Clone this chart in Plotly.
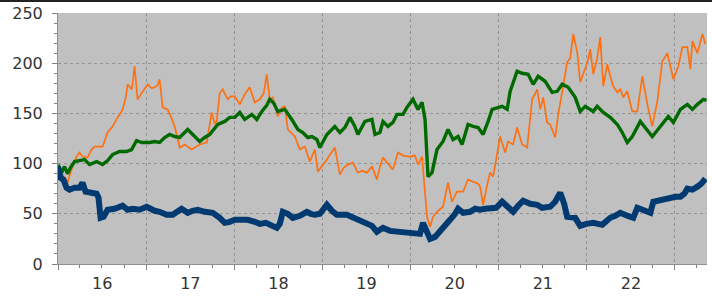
import pandas as pd
import plotly.graph_objects as go

# ---- data (time as decimal years, values in index points) ----
navy_t = [2016.000, 2016.028, 2016.063, 2016.097, 2016.131, 2016.188, 2016.244, 2016.278, 2016.313, 2016.381,
          2016.438, 2016.460, 2016.483, 2016.517, 2016.563, 2016.642, 2016.699, 2016.733, 2016.790, 2016.847,
          2016.926, 2017.006, 2017.097, 2017.153, 2017.233, 2017.301, 2017.403, 2017.472, 2017.528, 2017.585,
          2017.665, 2017.756, 2017.835, 2017.892, 2017.949, 2018.006, 2018.063, 2018.153, 2018.233, 2018.290,
          2018.358, 2018.426, 2018.483, 2018.517, 2018.551, 2018.608, 2018.665, 2018.744, 2018.824, 2018.869,
          2018.915, 2018.972, 2019.051, 2019.108, 2019.165, 2019.278, 2019.392, 2019.506, 2019.563, 2019.619,
          2019.688, 2019.767, 2019.847, 2019.938, 2020.028, 2020.108, 2020.142, 2020.188, 2020.222, 2020.278,
          2020.335, 2020.392, 2020.449, 2020.506, 2020.540, 2020.597, 2020.676, 2020.733, 2020.790, 2020.847,
          2020.903, 2020.972, 2021.040, 2021.097, 2021.165, 2021.222, 2021.278, 2021.358, 2021.438, 2021.494,
          2021.585, 2021.642, 2021.699, 2021.744, 2021.778, 2021.869, 2021.926, 2021.994, 2022.074, 2022.176,
          2022.233, 2022.267, 2022.324, 2022.381, 2022.460, 2022.528, 2022.574, 2022.642, 2022.722, 2022.756,
          2022.835, 2022.915, 2023.006, 2023.063, 2023.108, 2023.142, 2023.199, 2023.256, 2023.301, 2023.347]
navy_v = [97, 86, 84, 76, 74, 76, 76, 81, 72, 71,
          70, 66, 46, 47, 54, 55, 56, 58, 54, 55,
          54, 57, 53, 52, 49, 49, 55, 51, 53, 54,
          52, 51, 46, 41, 42, 44, 44, 44, 42, 40,
          41, 38, 36, 40, 52, 50, 46, 48, 52, 50,
          49, 50, 59, 53, 49, 49, 45, 41, 38, 32,
          36, 33, 32, 31, 31, 30, 41, 30, 25, 27,
          32, 38, 44, 50, 55, 51, 52, 55, 54, 55,
          56, 56, 62, 57, 52, 58, 63, 60, 59, 56,
          57, 62, 71, 60, 47, 46, 38, 40, 41, 39,
          43, 46, 48, 51, 48, 46, 56, 54, 51, 62,
          64, 66, 67, 67, 70, 75, 74, 77, 80, 85]

green_t = [2016.000, 2016.040, 2016.074, 2016.108, 2016.142, 2016.188, 2016.244, 2016.301, 2016.358, 2016.438,
           2016.506, 2016.563, 2016.619, 2016.699, 2016.778, 2016.835, 2016.892, 2016.949, 2017.040, 2017.097,
           2017.153, 2017.210, 2017.267, 2017.324, 2017.381, 2017.472, 2017.540, 2017.608, 2017.665, 2017.722,
           2017.813, 2017.892, 2017.949, 2018.006, 2018.063, 2018.119, 2018.199, 2018.256, 2018.313, 2018.369,
           2018.403, 2018.449, 2018.494, 2018.574, 2018.653, 2018.722, 2018.778, 2018.835, 2018.881, 2018.938,
           2018.972, 2019.051, 2019.142, 2019.199, 2019.256, 2019.313, 2019.369, 2019.403, 2019.483, 2019.563,
           2019.597, 2019.653, 2019.688, 2019.744, 2019.801, 2019.847, 2019.915, 2019.960, 2020.028, 2020.085,
           2020.131, 2020.165, 2020.199, 2020.244, 2020.301, 2020.369, 2020.426, 2020.483, 2020.540, 2020.585,
           2020.653, 2020.710, 2020.767, 2020.824, 2020.881, 2020.926, 2021.040, 2021.097, 2021.131, 2021.210,
           2021.267, 2021.335, 2021.392, 2021.449, 2021.528, 2021.608, 2021.665, 2021.722, 2021.790, 2021.869,
           2021.926, 2021.983, 2022.074, 2022.119, 2022.188, 2022.267, 2022.347, 2022.403, 2022.460, 2022.517,
           2022.608, 2022.699, 2022.744, 2022.835, 2022.926, 2022.983, 2023.063, 2023.142, 2023.199, 2023.256,
           2023.324, 2023.358]
green_v = [99, 91, 97, 90, 96, 102, 103, 104, 99, 102,
           99, 103, 109, 112, 112, 114, 123, 121, 121, 122,
           121, 126, 129, 127, 126, 134, 128, 122, 126, 129,
           139, 142, 146, 146, 151, 144, 149, 144, 152, 158,
           164, 160, 152, 154, 144, 134, 131, 126, 127, 124,
           116, 129, 137, 131, 136, 146, 137, 129, 142, 144,
           129, 131, 142, 137, 141, 149, 149, 156, 164, 154,
           161, 144, 87, 91, 114, 122, 134, 124, 127, 119,
           139, 137, 136, 129, 142, 154, 157, 154, 172, 192,
           190, 189, 179, 187, 182, 171, 172, 179, 176, 166,
           152, 157, 152, 157, 151, 146, 139, 131, 121, 127,
           142, 131, 127, 137, 147, 141, 154, 159, 154, 159,
           164, 163]

orange_t = [2016.000, 2016.051, 2016.108, 2016.153, 2016.210, 2016.244, 2016.278, 2016.335, 2016.381, 2016.415,
            2016.506, 2016.563, 2016.619, 2016.676, 2016.710, 2016.733, 2016.767, 2016.790, 2016.835, 2016.847,
            2016.869, 2016.903, 2016.960, 2017.017, 2017.063, 2017.097, 2017.131, 2017.153, 2017.188, 2017.244,
            2017.290, 2017.324, 2017.358, 2017.381, 2017.438, 2017.517, 2017.608, 2017.688, 2017.744, 2017.778,
            2017.801, 2017.835, 2017.869, 2017.926, 2017.960, 2018.006, 2018.063, 2018.119, 2018.176, 2018.233,
            2018.290, 2018.335, 2018.369, 2018.403, 2018.438, 2018.494, 2018.540, 2018.574, 2018.608, 2018.688,
            2018.744, 2018.801, 2018.858, 2018.915, 2018.949, 2018.994, 2019.051, 2019.142, 2019.199, 2019.244,
            2019.290, 2019.347, 2019.403, 2019.449, 2019.506, 2019.563, 2019.619, 2019.653, 2019.688, 2019.744,
            2019.801, 2019.858, 2019.915, 2019.994, 2020.051, 2020.085, 2020.131, 2020.165, 2020.188, 2020.222,
            2020.256, 2020.301, 2020.369, 2020.426, 2020.472, 2020.528, 2020.597, 2020.653, 2020.710, 2020.767,
            2020.790, 2020.824, 2020.869, 2020.903, 2020.938, 2020.983, 2021.017, 2021.074, 2021.108, 2021.165,
            2021.210, 2021.267, 2021.324, 2021.381, 2021.438, 2021.472, 2021.506, 2021.551, 2021.585, 2021.642,
            2021.676, 2021.733, 2021.778, 2021.813, 2021.847, 2021.892, 2021.926, 2021.983, 2022.017, 2022.040,
            2022.074, 2022.119, 2022.153, 2022.188, 2022.233, 2022.267, 2022.301, 2022.347, 2022.381, 2022.415,
            2022.460, 2022.517, 2022.574, 2022.631, 2022.688, 2022.744, 2022.801, 2022.858, 2022.915, 2022.983,
            2023.040, 2023.085, 2023.142, 2023.176, 2023.199, 2023.256, 2023.313, 2023.347]
orange_v = [97, 89, 81, 94, 107, 111, 107, 106, 114, 117,
            117, 131, 137, 146, 150, 154, 165, 179, 174, 180,
            197, 164, 172, 179, 175, 176, 178, 184, 156, 154,
            145, 137, 125, 116, 119, 114, 119, 121, 151, 140,
            142, 170, 174, 164, 167, 167, 159, 169, 176, 161,
            164, 170, 189, 164, 166, 147, 156, 157, 134, 127,
            114, 117, 102, 114, 92, 97, 104, 116, 89, 96,
            99, 101, 91, 93, 91, 97, 84, 97, 106, 100,
            94, 111, 108, 107, 108, 99, 107, 71, 47, 37,
            47, 52, 57, 81, 62, 72, 72, 84, 82, 80,
            77, 59, 78, 91, 87, 112, 127, 111, 122, 119,
            136, 119, 116, 164, 174, 154, 166, 141, 139, 126,
            149, 177, 201, 205, 229, 211, 181, 195, 204, 214,
            189, 205, 226, 177, 199, 187, 177, 171, 174, 166,
            172, 152, 152, 187, 159, 137, 162, 202, 210, 184,
            197, 216, 216, 194, 222, 210, 229, 219]

x_start = "2016-01-01"
x_end = "2023-05-14"
y_ticks = [0, 50, 100, 150, 200, 250]


def to_dates(ts):
    base = pd.Timestamp("2016-01-01")
    return [base + pd.Timedelta(days=(t - 2016.0) * 365.25) for t in ts]


fig = go.Figure()
fig.add_trace(go.Scatter(x=to_dates(orange_t), y=orange_v, mode="lines",
                         line=dict(color="#ff7010", width=1.7), showlegend=False))
fig.add_trace(go.Scatter(x=to_dates(green_t), y=green_v, mode="lines",
                         line=dict(color="#006a00", width=3.4), showlegend=False))
fig.add_trace(go.Scatter(x=to_dates(navy_t), y=navy_v, mode="lines",
                         line=dict(color="#003a70", width=6), showlegend=False))

font = dict(family="DejaVu Sans", size=16, color="#333333")

fig.update_layout(
    width=712, height=299,
    margin=dict(l=58, r=5, t=13, b=35),
    paper_bgcolor="white",
    plot_bgcolor="#c0c0c0",
    font=font,
    xaxis=dict(
        type="date", range=[x_start, x_end],
        dtick="M12", tick0="2016-01-01", tickformat="%y", ticklabelmode="period",
        ticks="outside", ticklen=5, tickcolor="#808080",
        showgrid=True, gridcolor="#949494", griddash="dot", gridwidth=1,
        showline=True, linecolor="#909090", linewidth=1,
        minor=dict(dtick="M3", tick0="2016-01-01", ticks="outside", ticklen=3,
                   tickcolor="#808080", showgrid=False),
        tickfont=font,
    ),
    yaxis=dict(
        range=[0, 250], tickvals=y_ticks,
        ticks="outside", ticklen=5, tickcolor="#808080",
        showgrid=True, gridcolor="#949494", griddash="dot", gridwidth=1,
        zeroline=False,
        showline=True, linecolor="#909090", linewidth=1,
        minor=dict(dtick=10, ticks="outside", ticklen=3, tickcolor="#808080", showgrid=False),
        tickfont=font, ticklabelstandoff=6,
    ),
    shapes=[dict(type="rect", xref="paper", yref="paper",
                 x0=-58 / 649, x1=1 + 5 / 649, y0=1 + 11 / 251, y1=1 + 13 / 251,
                 fillcolor="#222222", line=dict(width=0), layer="above")],
)

fig.write_html("out.html")
